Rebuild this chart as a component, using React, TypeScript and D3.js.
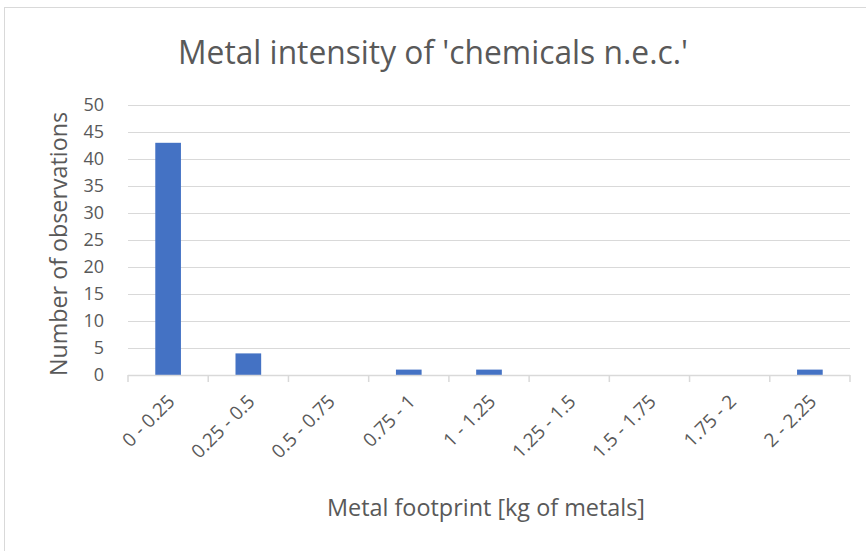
import React from "react";
import * as d3 from "d3";

const categories = ["0 - 0.25", "0.25 - 0.5", "0.5 - 0.75", "0.75 - 1", "1 - 1.25", "1.25 - 1.5", "1.5 - 1.75", "1.75 - 2", "2 - 2.25"];
const counts = [43, 4, 0, 1, 1, 0, 0, 0, 1];
const yTicks = [0, 5, 10, 15, 20, 25, 30, 35, 40, 45, 50];
const title = "Metal intensity of 'chemicals n.e.c.'";
const xTitle = "Metal footprint [kg of metals]";
const yTitle = "Number of observations";

const W = 866, H = 551;
const left = 128, right = 850, top = 105, bottom = 375;
const font = "'Open Sans', sans-serif";
const textColor = "#595959";
const gridColor = "#D9D9D9";

export default function App() {
  const x = d3.scaleBand().domain(categories).range([left, right]).paddingInner(0).paddingOuter(0);
  const y = d3.scaleLinear().domain([0, 50]).range([bottom, top]);
  const bw = x.bandwidth() * 0.32;
  return (
    <svg width={W} height={H} style={{ position: "absolute", left: 0, top: 0, background: "#fff" }}>
      <rect x={4.5} y={7.5} width={900} height={600} fill="#fff" stroke={gridColor} />
      <text x={433} y={64} textAnchor="middle" fontFamily={font} fontSize={33} textLength={510} lengthAdjust="spacingAndGlyphs" fill={textColor}>{title}</text>
      {yTicks.map(t => (
        <g key={t}>
          {t > 0 && <line x1={left} x2={right} y1={y(t) + 0.5} y2={y(t) + 0.5} stroke={gridColor} strokeWidth={1} />}
          <text x={104} y={y(t)} dy="0.35em" textAnchor="end" fontFamily={font} fontSize={18} fill={textColor}>{t}</text>
        </g>
      ))}
      {categories.map((c, i) => (
        <rect key={c} x={(x(c) as number) + x.bandwidth() / 2 - bw / 2} y={y(counts[i])} width={bw} height={bottom - y(counts[i])} fill="#4472C4" />
      ))}
      <line x1={left} x2={right} y1={bottom + 0.5} y2={bottom + 0.5} stroke={gridColor} strokeWidth={1.5} />
      {d3.range(categories.length + 1).map(i => {
        const tx = left + i * x.step();
        return <line key={i} x1={tx} x2={tx} y1={bottom} y2={bottom + 7} stroke={gridColor} strokeWidth={1.5} />;
      })}
      {categories.map(c => {
        const cx = (x(c) as number) + x.bandwidth() / 2 + 3;
        const cy = bottom + 23;
        return (
          <text key={c} transform={`translate(${cx},${cy}) rotate(-45)`} textAnchor="end" dy="0.35em" fontFamily={font} fontSize={19} fill={textColor}>{c}</text>
        );
      })}
      <text x={486} y={516} textAnchor="middle" fontFamily={font} fontSize={23} textLength={318} lengthAdjust="spacingAndGlyphs" fill={textColor}>{xTitle}</text>
      <text transform={`translate(67,244) rotate(-90)`} textAnchor="middle" fontFamily={font} fontSize={23} textLength={264} lengthAdjust="spacingAndGlyphs" fill={textColor}>{yTitle}</text>
    </svg>
  );
}
